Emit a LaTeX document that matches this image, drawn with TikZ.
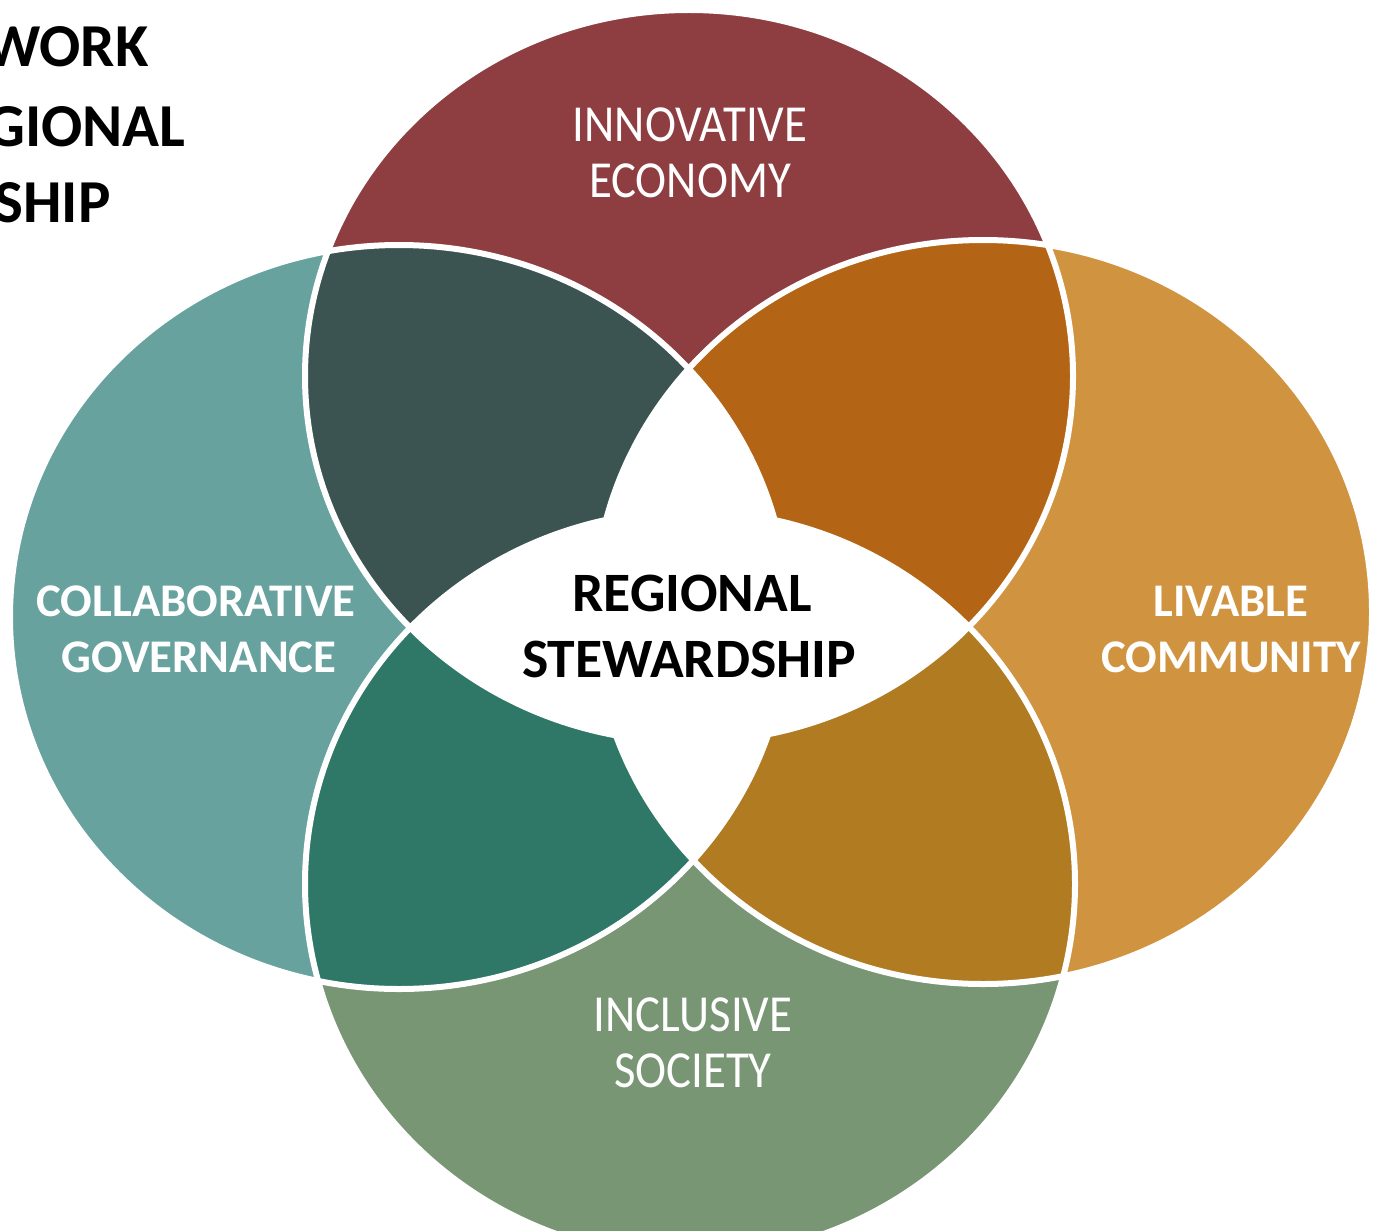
\documentclass[tikz,border=0pt]{standalone}
\usepackage{fontspec}
\usepackage{graphicx}
\setmainfont{Carlito}
\definecolor{cTop}{HTML}{8E3E41}
\definecolor{cLeft}{HTML}{67A29F}
\definecolor{cRight}{HTML}{D09441}
\definecolor{cBot}{HTML}{789574}
\definecolor{cTL}{HTML}{3B5451}
\definecolor{cTR}{HTML}{B36414}
\definecolor{cBL}{HTML}{2F7767}
\definecolor{cBR}{HTML}{B07B21}
\newcommand{\narrow}[1]{\scalebox{0.9}[1]{#1}}
\tikzset{
  lbl/.style={text=white, inner sep=0pt, anchor=base, font=\fontsize{26}{30}\selectfont},
  lblb/.style={text=white, inner sep=0pt, anchor=base, font=\fontsize{23.4}{28}\selectfont\bfseries},
  ctr/.style={text=black, inner sep=0pt, anchor=base, font=\fontsize{27.8}{33}\selectfont\bfseries},
  ttl/.style={text=black, inner sep=0pt, anchor=base east, font=\fontsize{30.5}{36}\selectfont\bfseries},
  outline/.style={draw=white, line width=3pt},
}
\begin{document}
\begin{tikzpicture}[x=0.5pt,y=-0.5pt]
\useasboundingbox (0,0) rectangle (1374,1230);
\def\TE{(689,376) ellipse [x radius=384, y radius=366]}
\def\BE{(690,884) ellipse [x radius=385, y radius=373]}
\def\LE{(399,617) ellipse [x radius=389, y radius=372]}
\def\RE{(983,612) ellipse [x radius=389, y radius=372]}
% single circles
\fill[cTop] \TE;
\fill[cBot] \BE;
\fill[cLeft] \LE;
\fill[cRight] \RE;
% pairwise overlaps
\begin{scope}\clip \TE; \fill[cTL] \LE; \end{scope}
\begin{scope}\clip \TE; \fill[cTR] \RE; \end{scope}
\begin{scope}\clip \BE; \fill[cBL] \LE; \end{scope}
\begin{scope}\clip \BE; \fill[cBR] \RE; \end{scope}
% regions inside three or more
\begin{scope}\clip \TE; \clip \LE; \fill[white] \RE; \end{scope}
\begin{scope}\clip \TE; \clip \LE; \fill[white] \BE; \end{scope}
\begin{scope}\clip \TE; \clip \RE; \fill[white] \BE; \end{scope}
\begin{scope}\clip \LE; \clip \RE; \fill[white] \BE; \end{scope}
% white outlines
\path[outline] \TE;
\path[outline] \BE;
\path[outline] \LE;
\path[outline] \RE;
% labels
\node[lbl] (ie1) at (690,142) {\narrow{INNOVATIVE}};
\node[lbl] (ie2) at (690,198) {\narrow{ECONOMY}};
\node[lblb] (cg1) at (196,616) {COLLABORATIVE};
\node[lblb] (cg2) at (199,672) {GOVERNANCE};
\node[lblb] (lc1) at (1231,616) {LIVABLE};
\node[lblb] (lc2) at (1231,672) {COMMUNITY};
\node[lbl] (is1) at (693,1031) {\narrow{INCLUSIVE}};
\node[lbl] (is2) at (693,1087) {\narrow{SOCIETY}};
\node[ctr] (rs1) at (692,611) {REGIONAL};
\node[ctr] (rs2) at (689,677) {STEWARDSHIP};
% cut-off title
\node[ttl] (t1) at (149,67) {WORK};
\node[ttl] (t2) at (186,147) {GIONAL};
\node[ttl] (t3) at (111,222) {SHIP};
\end{tikzpicture}
\end{document}
